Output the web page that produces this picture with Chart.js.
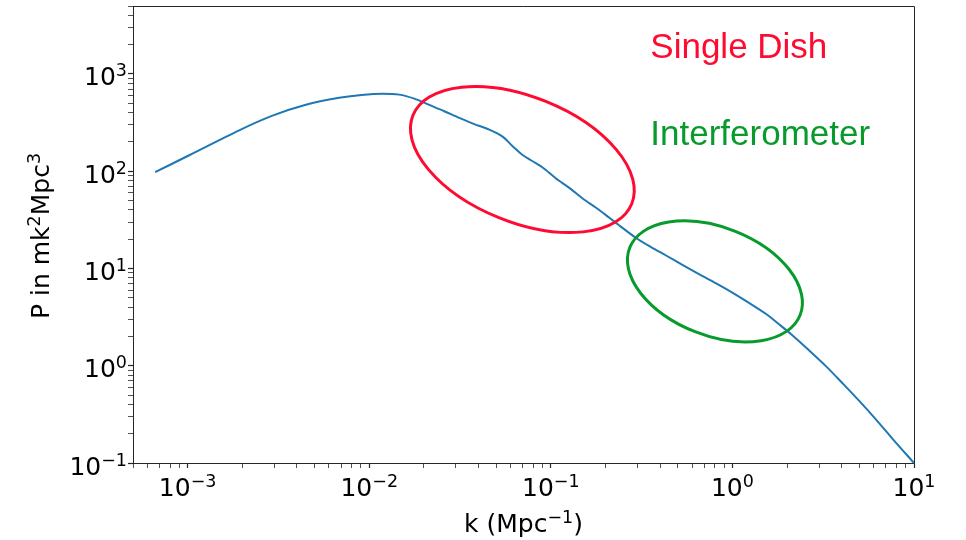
<!DOCTYPE html>
<html>
<head>
<meta charset="utf-8">
<script src="https://cdn.jsdelivr.net/npm/chart.js@4/dist/chart.umd.min.js"></script>
<style>
  html, body { margin: 0; padding: 0; background: #fff; }
  canvas { display: block; }
</style>
</head>
<body>
<canvas id="powerChart" width="966" height="540"></canvas>
<script>
// wavenumber k (Mpc^-1)
const kValues = [0.000662, 0.001019, 0.001921, 0.002933, 0.004479, 0.006833, 0.009386, 0.01179,
  0.01463, 0.01770, 0.02141, 0.02589, 0.03132, 0.03789, 0.04582, 0.05426, 0.06160, 0.06993,
  0.07937, 0.09012, 0.1068, 0.1264, 0.1497, 0.1775, 0.2101, 0.2384, 0.2947, 0.3564, 0.4312,
  0.5303, 0.6579, 0.8133, 1.004, 1.241, 1.534, 1.792, 2.106, 2.623, 3.283, 4.037, 5.008,
  6.216, 7.641, 10];
// power P (mK^2 Mpc^3)
const pValues = [97.7, 146.0, 263.6, 373.2, 482.8, 568.3, 613.2, 627.8,
  613.2, 557.7, 480.5, 414.0, 353.4, 305.1, 268.0, 227.2, 180.6, 146.7,
  126.6, 109.2, 84.2, 67.5, 52.4, 42.1, 33.2, 27.7, 20.6, 16.6, 13.6,
  10.9, 8.70, 7.03, 5.62, 4.40, 3.40, 2.70, 2.11, 1.46, 0.986, 0.661, 0.432,
  0.276, 0.176, 0.1];

const xMajorTicks = [0.001, 0.01, 0.1, 1, 10];
const yMajorTicks = [0.1, 1, 10, 100, 1000];
const xRange = [0.0005, 10];
const yRange = [0.1, 5000];

// annotation regions
const regions = [
  { label: 'Single Dish', k: 0.0697, p: 132, color: '#ff0a30', textK: 0.353, textP: 1470 },
  { label: 'Interferometer', k: 0.801, p: 7.37, color: '#079a2c', textK: 0.353, textP: 188 }
];

const baseSize = 25;
const axisColor = '#262626';

// majors plus 2..9 minor ticks within the range
const logTicks = (majors, lo, hi) => {
  const out = [];
  const first = Math.floor(Math.log10(lo)), last = Math.ceil(Math.log10(hi));
  for (let e = first; e <= last; e++) {
    for (let m = 1; m <= 9; m++) {
      const v = parseFloat((m * Math.pow(10, e)).toPrecision(6));
      if (v >= lo * 0.9999 && v <= hi * 1.0001) out.push({ value: v, major: majors.includes(v) });
    }
  }
  return out;
};

const powParts = (v) => {
  const e = Math.round(Math.log10(v));
  return [['10', false], [String(e).replace('-', '\u2212'), true]];
};

// text with superscript pieces, like mathtext
function richText(ctx, parts, x, y, align) {
  const fonts = parts.map(p => (p[1] ? baseSize * 0.7 : baseSize) + 'px "DejaVu Sans"');
  const widths = parts.map((p, i) => { ctx.font = fonts[i]; return ctx.measureText(p[0]).width; });
  const total = widths.reduce((a, b) => a + b, 0);
  let cx = align === 'center' ? x - total / 2 : align === 'right' ? x - total : x;
  ctx.textAlign = 'left';
  ctx.textBaseline = 'alphabetic';
  parts.forEach((p, i) => {
    ctx.font = fonts[i];
    ctx.fillText(p[0], cx, p[1] ? y - baseSize * 0.36 : y);
    cx += widths[i];
  });
}

const overlay = {
  id: 'overlay',
  afterDraw(chart) {
    const { ctx, chartArea: a, scales: { x, y } } = chart;
    ctx.save();
    // top and right spines
    ctx.strokeStyle = axisColor;
    ctx.lineWidth = 1;
    ctx.beginPath();
    ctx.moveTo(a.left, a.top + 0.5);
    ctx.lineTo(a.right + 0.5, a.top + 0.5);
    ctx.lineTo(a.right + 0.5, a.bottom);
    ctx.stroke();

    // tick labels and axis titles
    ctx.fillStyle = '#000';
    xMajorTicks.forEach(v => richText(ctx, powParts(v), x.getPixelForValue(v), a.bottom + 33, 'center'));
    yMajorTicks.forEach(v => richText(ctx, powParts(v), a.left - 6, y.getPixelForValue(v) + 11.5, 'right'));
    richText(ctx, [['k (Mpc', false], ['\u22121', true], [')', false]], (a.left + a.right) / 2, 532, 'center');
    ctx.save();
    ctx.translate(48.5, 236);
    ctx.rotate(-Math.PI / 2);
    richText(ctx, [['P in mk', false], ['2', true], ['Mpc', false], ['3', true]], 0, 0, 'center');
    ctx.restore();

    const shapes = [
      { rx: 118, ry: 62.7, rot: 22 },
      { rx: 91.6, ry: 54.1, rot: 21.5 }
    ];
    regions.forEach((r, i) => {
      const s = shapes[i];
      ctx.strokeStyle = r.color;
      ctx.lineWidth = 3;
      ctx.beginPath();
      ctx.ellipse(x.getPixelForValue(r.k), y.getPixelForValue(r.p), s.rx, s.ry,
        s.rot * Math.PI / 180, 0, Math.PI * 2);
      ctx.stroke();

      ctx.fillStyle = r.color;
      ctx.font = '35px "Liberation Sans", Arial, sans-serif';
      ctx.textBaseline = 'alphabetic';
      ctx.textAlign = 'left';
      ctx.fillText(r.label, x.getPixelForValue(r.textK), y.getPixelForValue(r.textP));
    });
    ctx.restore();
  }
};

const gridOpts = {
  drawOnChartArea: false, drawTicks: true, tickLength: 5, tickColor: axisColor,
  tickWidth: (c) => (c.tick && c.tick.major ? 1.2 : 0.8)
};

new Chart(document.getElementById('powerChart'), {
  type: 'scatter',
  data: {
    datasets: [{
      data: kValues.map((k, i) => ({ x: k, y: pValues[i] })),
      showLine: true,
      borderColor: '#1f77b4',
      borderWidth: 2,
      pointRadius: 0,
      tension: 0.3,
      clip: false
    }]
  },
  options: {
    responsive: false,
    animation: false,
    devicePixelRatio: 1,
    layout: { padding: { left: 0, top: 6, right: 52, bottom: 0 } },
    plugins: { legend: { display: false }, tooltip: { enabled: false } },
    scales: {
      x: {
        type: 'logarithmic',
        min: xRange[0],
        max: xRange[1],
        afterFit: (s) => { s.height = 77; },
        afterBuildTicks: (s) => { s.ticks = logTicks(xMajorTicks, xRange[0], xRange[1]); },
        grid: gridOpts,
        border: { display: true, color: axisColor, width: 1 },
        ticks: { display: false },
        title: { display: false }
      },
      y: {
        type: 'logarithmic',
        min: yRange[0],
        max: yRange[1],
        afterFit: (s) => { s.width = 133; },
        afterBuildTicks: (s) => { s.ticks = logTicks(yMajorTicks, yRange[0], yRange[1]); },
        grid: gridOpts,
        border: { display: true, color: axisColor, width: 1 },
        ticks: { display: false },
        title: { display: false }
      }
    }
  },
  plugins: [overlay]
});
</script>
</body>
</html>
